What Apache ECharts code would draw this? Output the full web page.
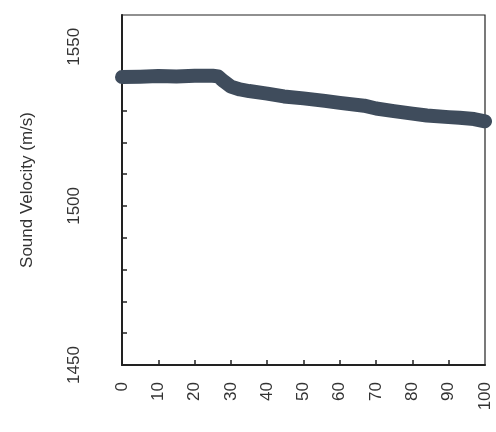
<!DOCTYPE html>
<html>
<head>
<meta charset="utf-8">
<script src="https://cdn.jsdelivr.net/npm/echarts@6/dist/echarts.min.js"></script>
<style>html,body{margin:0;padding:0;background:#fff;}#c{width:496px;height:432px;}</style>
</head>
<body>
<div id="c"></div>
<script>
var xValues = [0, 5, 10, 15, 20, 25, 26.5, 28, 30, 32.5, 35, 40, 44.6, 50, 55.9, 60, 66.7, 70, 74.9, 80, 84, 90, 93, 97, 100];
var velocity = [1540.5, 1540.6, 1540.8, 1540.7, 1540.9, 1540.9, 1540.7, 1539.2, 1537.5, 1536.6, 1536.1, 1535.3, 1534.4, 1533.8, 1533.0, 1532.4, 1531.5, 1530.6, 1529.8, 1529.0, 1528.4, 1527.9, 1527.7, 1527.3, 1526.6];
var xTickLabels = [0, 10, 20, 30, 40, 50, 60, 70, 80, 90, 100];
var xTicks = [10, 20, 30, 40, 50, 60, 70, 80, 90];
var yTickLabels = [1450, 1500, 1550];
var yTicks = [1460, 1470, 1480, 1490, 1500, 1510, 1520, 1530, 1540];
var yName = 'Sound Velocity (m/s)';

var chart = echarts.init(document.getElementById('c'), null, {renderer: 'canvas'});
var font = 'Liberation Sans, Arial, sans-serif';
function plain(v) { return String(v); }
chart.setOption({
  animation: false,
  backgroundColor: '#ffffff',
  grid: {left: 122, right: 11, top: 15, bottom: 67, show: true, borderColor: '#222', borderWidth: 1.2, backgroundColor: 'transparent'},
  xAxis: {
    type: 'value', min: 0, max: 100, interval: 10,
    axisLine: {show: true, onZero: false, lineStyle: {color: '#222', width: 2}},
    axisTick: {show: true, inside: true, length: 5, customValues: xTicks, lineStyle: {color: '#222', width: 1.5}},
    axisLabel: {rotate: 90, margin: 17, fontSize: 17, color: '#333', fontFamily: font, customValues: xTickLabels, formatter: plain},
    splitLine: {show: false}
  },
  yAxis: {
    type: 'value', min: 1450, max: 1560, interval: 10,
    name: yName, nameLocation: 'middle', nameGap: 86, nameRotate: 90,
    nameTextStyle: {fontSize: 17, color: '#333', fontFamily: font},
    axisLine: {show: true, onZero: false, lineStyle: {color: '#222', width: 2}},
    axisTick: {show: true, inside: true, length: 5, customValues: yTicks, lineStyle: {color: '#222', width: 1.5}},
    axisLabel: {rotate: 90, margin: 39, fontSize: 17, color: '#333', fontFamily: font, customValues: yTickLabels, formatter: plain},
    splitLine: {show: false}
  },
  series: [{
    type: 'line',
    data: xValues.map(function (x, i) { return [x, velocity[i]]; }),
    showSymbol: false,
    smooth: false,
    lineStyle: {color: '#3f4c5c', width: 14, cap: 'round', join: 'round'}
  }]
});
</script>
</body>
</html>
